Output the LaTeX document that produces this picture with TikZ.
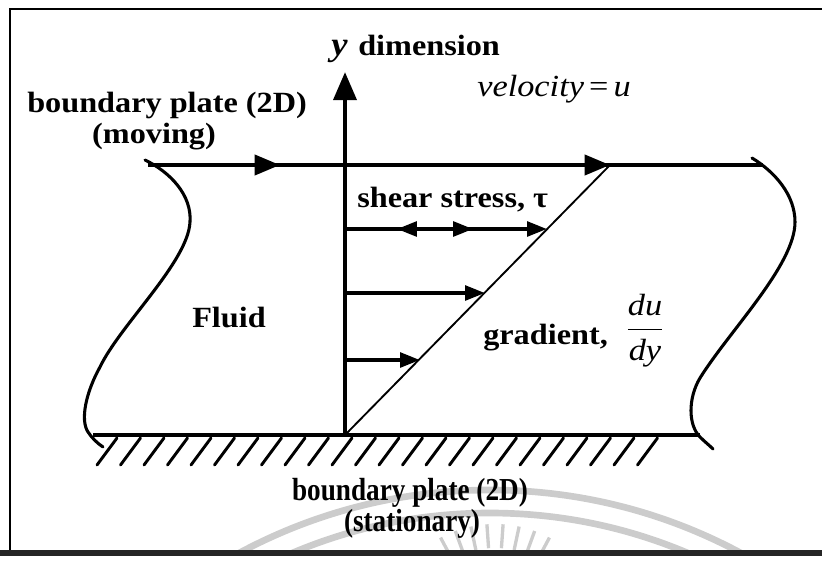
\documentclass[tikz,border=0pt]{standalone}
\usepackage{fontspec}
\setmainfont{Liberation Serif}
\newfontfamily\fA[FakeStretch=1.1]{Liberation Serif}
\newfontfamily\fB[FakeStretch=1.12]{Liberation Serif}
\newfontfamily\fD[FakeStretch=0.85]{Liberation Serif}
\usetikzlibrary{arrows.meta,decorations.markings}
\begin{document}
\begin{tikzpicture}[x=0.75pt,y=-0.75pt,
  lbl/.style={inner sep=0pt, font=\fA\bfseries\fontsize{22}{24}\selectfont},
  lbld/.style={inner sep=0pt, font=\fD\bfseries\fontsize{24}{26}\selectfont},
  ilbl/.style={inner sep=0pt, font=\fB\fontsize{23}{25}\selectfont},
  plate/.style={line width=3pt},
  axisline/.style={line width=3.4pt, -{Triangle[length=21pt,width=17pt]}},
  curve/.style={line width=2.3pt, line cap=round},
  thinline/.style={line width=1.4pt},
  shearline/.style={line width=2.8pt},
  hatchline/.style={line width=2.2pt, line cap=round},
  frameline/.style={line width=2pt},
  wmark/.style={line width=5pt, black!20},
  bigtip/.tip={Triangle[length=19pt,width=15pt]},
  smalltip/.tip={Triangle[length=15pt,width=11pt]}
]
\useasboundingbox (0,0) rectangle (822,565);

% watermark
\begin{scope}
\clip (11,462) rectangle (822,551);
\draw[wmark] (490,1020) circle[radius=530];
\draw[wmark] (490,1020) circle[radius=507];
\foreach \a in {62,70,...,118}
  \draw[line width=2.5pt, black!20] (495,640) ++(-\a:92) -- ++(-\a:24);
\end{scope}

% frame
\coordinate (F1) at (10,9);
\coordinate (F2) at (822,9);
\coordinate (F3) at (10,553);
\coordinate (F4) at (0,553);
\coordinate (F5) at (822,553);
\draw[frameline] (F2) -- (F1) -- (F3);
\draw[line width=3.8pt, black!85] (F4) -- (F5);

% key points
\coordinate (O) at (345,435);
\coordinate (Ytip) at (345,72);
\coordinate (TL) at (148,165);
\coordinate (TR) at (763,165);
\coordinate (BL) at (93,435);
\coordinate (BR) at (700,435);
\coordinate (D) at (610,165);
\coordinate (a1) at (345,229); \coordinate (b1) at (547,229);
\coordinate (a2) at (345,293); \coordinate (b2) at (485,293);
\coordinate (a3) at (345,360); \coordinate (b3) at (420,360);

% fluid boundaries
\draw[curve] (145,160) .. controls (170,172) and (192,195) .. (190,222)
  .. controls (188,262) and (120,325) .. (100,367)
  .. controls (86,392) and (80,420) .. (88,432)
  .. controls (92,438) and (97,443) .. (103,447);
\draw[curve] (752,158) .. controls (775,172) and (795,195) .. (795,222)
  .. controls (795,265) and (730,330) .. (700,378)
  .. controls (688,398) and (688,425) .. (700,437)
  .. controls (705,442) and (709,445) .. (713,449);

% plates
\draw[plate, postaction={decorate}, decoration={markings,
   mark=at position 0.2146 with {\arrow{bigtip}},
   mark=at position 0.7512 with {\arrow{bigtip}}}] (TL) -- (TR);
\draw[plate] (BL) -- (BR);
\foreach \k in {0,...,23}
  \draw[hatchline] ({97+23.5*\k},465) -- ({117+23.5*\k},438);

% gradient line
\draw[thinline] (O) -- (D);

% y axis
\draw[axisline] (O) -- (Ytip);

% shear arrows
\draw[shearline, -{smalltip}, postaction={decorate}, decoration={markings,
   mark=at position 0.257 with {\arrowreversed{smalltip}},
   mark=at position 0.634 with {\arrow{smalltip}}}] (a1) -- (b1);
\draw[shearline, -{smalltip}] (a2) -- (b2);
\draw[shearline, -{smalltip}] (a3) -- (b3);

% labels
\node[lbl, anchor=base west] (tplate) at (27,112) {boundary plate (2D)};
\node[lbl, anchor=base] (tmov) at (154,143) {(moving)};
\node[lbl, anchor=base west] (dim) at (358,55) {dimension};
\node[inner sep=0pt, anchor=base east, font=\fA\bfseries\itshape\fontsize{25}{27}\selectfont] (ylab) at (348,55) {y};
\node[ilbl, anchor=base west] (vel) at (477,96) {\itshape velocity\,\upshape=\,\itshape u};
\node[lbl, anchor=base west] (shear) at (357,207) {shear stress, τ};
\node[lbl, anchor=base west] (fluid) at (192,327) {Fluid};
\node[lbl, anchor=base west] (grad) at (483,344) {gradient,};
\node[inner sep=0pt, anchor=base, font=\fontsize{23}{26}\selectfont] (frac) at (645,338)
  {$\displaystyle\frac{\mbox{\fB\itshape du}}{\mbox{\fB\itshape dy}}$};
\node[lbld, anchor=base] (bplate) at (410,500) {boundary plate (2D)};
\node[lbld, anchor=base] (bstat) at (412,531) {(stationary)};
\end{tikzpicture}
\end{document}
